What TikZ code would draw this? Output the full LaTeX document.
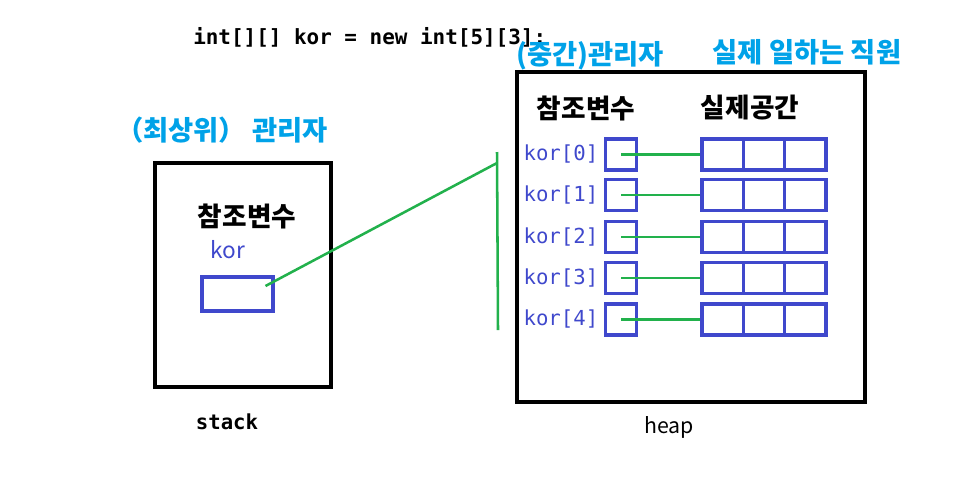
\documentclass[tikz,border=0pt]{standalone}
\usepackage{fontspec}
\setmainfont{Noto Sans CJK KR}
\setmonofont{DejaVu Sans Mono}
\usepackage{tikz}
\usetikzlibrary{positioning,calc}
\definecolor{paintcyan}{HTML}{00A2E8}
\definecolor{paintblue}{HTML}{3F48CC}
\definecolor{paintgreen}{HTML}{22B14C}

\tikzset{
	membox/.style={draw=black,line width=2.3pt,inner sep=0pt},
	cell/.style={draw=paintblue,line width=2.5pt,inner sep=0pt,minimum width=31pt,minimum height=23.25pt},
	wire/.style={draw=paintgreen,line width=1.9pt},
	title/.style={text=paintcyan,font=\bfseries\fontsize{20.5}{24}\selectfont},
	head/.style={font=\bfseries\fontsize{20}{24}\selectfont},
	idx/.style={text=paintblue,font=\ttfamily\fontsize{15.5}{18}\selectfont,inner sep=0pt}
}

\begin{document}
\begin{tikzpicture}[x=0.75pt,y=-0.75pt]
			\useasboundingbox (0,0) rectangle (966,486);
			\node[anchor=west,inner sep=0pt,font=\ttfamily\bfseries\fontsize{15.7}{18}\selectfont] (code) at (193,37) {int[][] kor = new int[5][3];};

			% stack
			\node[title] (toplbl) at (222,130) {（최상위） 관리자};
			\node[membox,minimum width=132pt,minimum height=168pt] (stack) at (243,275) {};
			\node[head] (sref) at (247,216) {참조변수};
			\node[text=paintblue,font=\fontsize{17}{20}\selectfont] (kor) at (228,250) {kor};
			\node[cell,minimum width=53.25pt,minimum height=25.5pt] (ref) at (237.5,294) {};
			\node[font=\ttfamily\bfseries\fontsize{15.5}{18}\selectfont] (stacklbl) at (227,422) {stack};

			% heap
			\node[title] (midlbl) at (590,56) {(중간)관리자};
			\node[title] (worklbl) at (807,52) {실제 일하는 직원};
			\node[membox,minimum width=261pt,minimum height=247.5pt] (heap) at (691,237) {};
			\node[head] (href) at (586,108) {참조변수};
			\node[head] (hreal) at (750,108) {실제공간};
			\node[font=\fontsize{16}{18}\selectfont] (heaplbl) at (669,427) {heap};

			\foreach \i/\y in {0/154.5,1/195,2/237,3/278,4/319.5}{
				\node[cell,minimum width=23.25pt] (ptr-\i) at (621,\y) {};
				\node[idx,left=4pt of ptr-\i] (name-\i) {kor[\i]};
				\foreach \j in {0,1,2}
					\node[cell] (arr-\i-\j) at ({722.7+41.33*\j},\y) {};
				\draw[wire] (ptr-\i.center) -- (arr-\i-0.west);
			}

			\coordinate (bend) at (497,163);
			\coordinate (vtop) at (497,152);
			\coordinate (vbot) at (498,330);
			\draw[wire] ($(ref.center)+(28,-8)$) -- (bend)
						(vtop) -- (vbot);
%			\draw[wire] (ref.east) -- (heap.west);
		\end{tikzpicture}
\end{document}
